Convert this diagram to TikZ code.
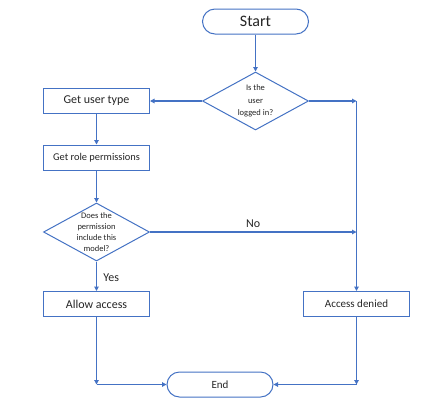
\documentclass[tikz,border=0pt]{standalone}
\usepackage{fontspec}
\setmainfont{Carlito}
\usetikzlibrary{arrows.meta,shapes.geometric}
\definecolor{fcblue}{HTML}{4472C4}
\definecolor{fctext}{HTML}{262626}
\begin{document}
\begin{tikzpicture}[x=1pt,y=-1pt,
  line/.style={draw=fcblue,line width=1.1pt},
  arr/.style={line,-{Triangle[length=4.5pt,width=4.5pt]}},
  box/.style={draw=fcblue,line width=1pt,fill=white,rectangle,minimum width=106pt,minimum height=25pt,inner sep=0pt,text=fctext},
  term/.style={draw=fcblue,line width=1pt,fill=white,rectangle,rounded corners=12.5pt,minimum width=106pt,minimum height=25pt,inner sep=0pt,text=fctext},
  dec/.style={draw=fcblue,line width=1pt,fill=white,diamond,aspect=2,minimum width=106pt,minimum height=58pt,inner sep=0pt},
  dectext/.style={align=center,text=fctext,inner sep=0pt},
  lbl/.style={font=\fontsize{12}{14}\selectfont,text=fctext}
]
\useasboundingbox (0,0) rectangle (443,405);
\node[term,font=\fontsize{16}{18}\selectfont] (start) at (255.5,21.5) {Start};
\node[dec] (d1) at (255.5,101) {};
\node[dectext,font=\fontsize{8.5}{12.5}\selectfont] (d1t) at (d1.center) {Is the\\user\\logged in?};
\node[box,font=\fontsize{12}{14}\selectfont] (gut) at (96.5,101) {Get user type};
\node[box,font=\fontsize{10.4}{12}\selectfont] (grp) at (96.5,157.5) {Get role permissions};
\node[dec] (d2) at (96.5,232) {};
\node[dectext,font=\fontsize{8.5}{10.8}\selectfont] (d2t) at (d2.center) {Does the\\permission\\include this\\model?};
\node[box,font=\fontsize{12}{14}\selectfont] (allow) at (96.5,304) {Allow access};
\node[box,font=\fontsize{11}{13}\selectfont] (deny) at (356.5,304) {Access denied};
\node[term,font=\fontsize{11}{13}\selectfont] (end) at (220,384.5) {End};
\coordinate (c1) at (356.5,101);
\coordinate (c2) at (356.5,232);
\coordinate (c3) at (96.5,384.5);
\coordinate (c4) at (356.5,384.5);

\draw[arr] (start) -- (d1);
\draw[arr] (d1.west) -- (gut.east);
\draw[arr] (d1.east) -- (c1);
\draw[arr] (c1) -- (deny.north);
\draw[arr] (gut) -- (grp);
\draw[arr] (grp) -- (d2.north);
\draw[arr] (d2.east) -- node[lbl,above=1pt] {No} (c2);
\draw[arr] (d2.south) -- node[lbl,right=3pt,pos=0.55] {Yes} (allow.north);
\draw[arr] (allow.south) -- (c3);
\draw[arr] (c3) -- (end.west);
\draw[arr] (deny.south) -- (c4);
\draw[arr] (c4) -- (end.east);
\end{tikzpicture}
\end{document}
